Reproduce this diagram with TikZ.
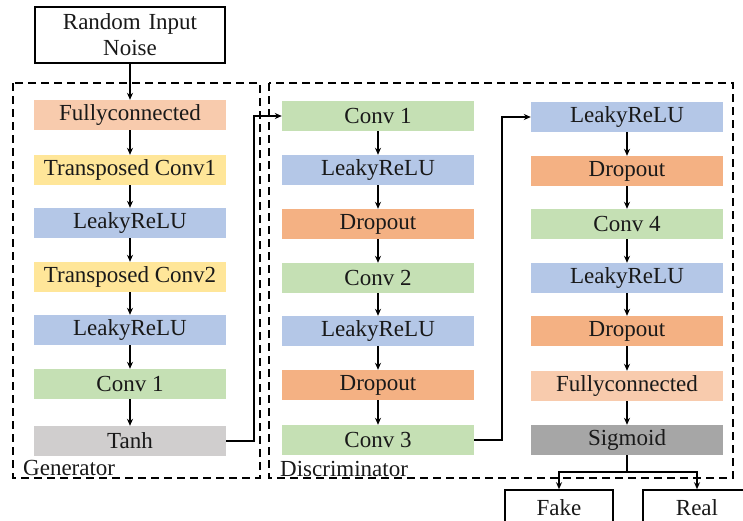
\documentclass[tikz,border=0pt]{standalone}
\usepackage{fontspec}
\setmainfont{Liberation Serif}
\usetikzlibrary{arrows.meta}
\definecolor{cfc}{HTML}{F8CBAD}
\definecolor{ctc}{HTML}{FFE699}
\definecolor{crelu}{HTML}{B4C7E7}
\definecolor{cconv}{HTML}{C5E0B4}
\definecolor{cdrop}{HTML}{F4B183}
\definecolor{ctanh}{HTML}{D0CECE}
\definecolor{csig}{HTML}{A6A6A6}
\tikzset{
  layer/.style={minimum width=192pt, minimum height=30pt, inner sep=0pt,
    font=\fontsize{23}{25}\selectfont, text=black!90},
  outbox/.style={draw, line width=1.6pt, inner sep=0pt,
    font=\fontsize{23}{25}\selectfont, text=black!90},
  flow/.style={line width=1.5pt, -{Stealth[length=7pt,width=6pt]}},
  group/.style={draw, line width=1.6pt, dash pattern=on 8pt off 5pt},
  grouplabel/.style={anchor=base west, inner sep=0pt,
    font=\fontsize{23}{25}\selectfont, text=black!90}
}
\begin{document}
\begin{tikzpicture}[x=1pt,y=-1pt]
\clip (0,0) rectangle (743,520);
\fill[white] (0,0) rectangle (743,520);

% dashed groups
\draw[group] (13,83) rectangle (260,478);
\draw[group] (269,83) rectangle (733,478);
\node[grouplabel] (glab) at (23,475) {Generator};
\node[grouplabel] (dlab) at (280,476) {Discriminator};

% input noise
\node[outbox, minimum width=190pt, minimum height=56pt, align=center,
  text width=186pt] (noise) at (130,35) {Random Input\\[1pt]Noise};

% generator
\node[layer, fill=cfc]   (g1) at (130,115) {Fullyconnected};
\node[layer, fill=ctc]   (g2) at (130,170) {Transposed Conv1};
\node[layer, fill=crelu] (g3) at (130,223) {LeakyReLU};
\node[layer, fill=ctc]   (g4) at (130,277) {Transposed Conv2};
\node[layer, fill=crelu] (g5) at (130,330) {LeakyReLU};
\node[layer, fill=cconv] (g6) at (130,384) {Conv 1};
\node[layer, fill=ctanh] (g7) at (130,441) {Tanh};

% discriminator, first column
\node[layer, fill=cconv] (d1) at (378,116) {Conv 1};
\node[layer, fill=crelu] (d2) at (378,170) {LeakyReLU};
\node[layer, fill=cdrop] (d3) at (378,224) {Dropout};
\node[layer, fill=cconv] (d4) at (378,278) {Conv 2};
\node[layer, fill=crelu] (d5) at (378,331) {LeakyReLU};
\node[layer, fill=cdrop] (d6) at (378,385) {Dropout};
\node[layer, fill=cconv] (d7) at (378,440) {Conv 3};

% discriminator, second column
\node[layer, fill=crelu] (e1) at (627,117) {LeakyReLU};
\node[layer, fill=cdrop] (e2) at (627,171) {Dropout};
\node[layer, fill=cconv] (e3) at (627,224) {Conv 4};
\node[layer, fill=crelu] (e4) at (627,278) {LeakyReLU};
\node[layer, fill=cdrop] (e5) at (627,331) {Dropout};
\node[layer, fill=cfc]   (e6) at (627,386) {Fullyconnected};
\node[layer, fill=csig]  (e7) at (627,440) {Sigmoid};

% outputs
\node[outbox, minimum width=108pt, minimum height=36pt] (fake) at (559,508) {Fake};
\node[outbox, minimum width=108pt, minimum height=36pt] (real) at (697,508) {Real};

% connectors
\draw[flow] (noise) -- (g1);
\foreach \a/\b in {g1/g2,g2/g3,g3/g4,g4/g5,g5/g6,g6/g7,
                   d1/d2,d2/d3,d3/d4,d4/d5,d5/d6,d6/d7,
                   e1/e2,e2/e3,e3/e4,e4/e5,e5/e6,e6/e7}
  \draw[flow] (\a) -- (\b);

\coordinate (gx) at (254,0);
\draw[flow] (g7.east) -| (gx |- d1.west) -- (d1.west);
\coordinate (dx) at (502,0);
\draw[flow] (d7.east) -| (dx |- e1.west) -- (e1.west);

\coordinate (split) at (627,472);
\draw[line width=1.5pt] (e7.south) -- (split);
\draw[flow] (split) -| (fake.north);
\draw[flow] (split) -| (real.north);
\end{tikzpicture}
\end{document}
